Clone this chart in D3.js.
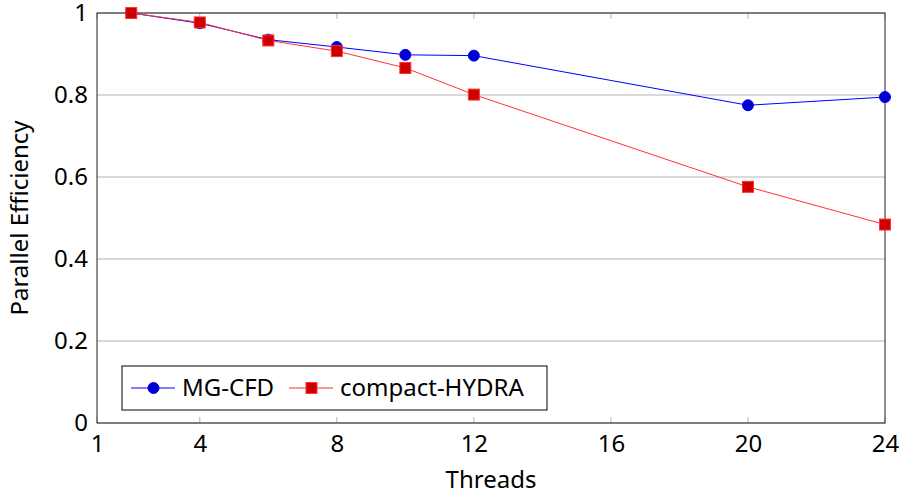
<!DOCTYPE html>
<html>
<head>
<meta charset="utf-8">
<script src="https://cdn.jsdelivr.net/npm/d3@7"></script>
<style>
  body { margin: 0; background: #fff; }
  text { font-family: "Noto Sans", "DejaVu Sans", sans-serif; fill: #000; }
</style>
</head>
<body>
<div id="chart"></div>
<script>
var threads = [2, 4, 6, 8, 10, 12, 20, 24]
var mgcfd = [1, 0.975, 0.935, 0.917, 0.898, 0.896, 0.775, 0.795]
var hydra = [1, 0.977, 0.933, 0.907, 0.866, 0.801, 0.576, 0.484]
var x_ticks = [1, 4, 8, 12, 16, 20, 24]
var y_ticks = [0, 0.2, 0.4, 0.6, 0.8, 1]
var series_names = ["MG-CFD", "compact-HYDRA"]

var W = 902, H = 496
var plot = {left: 97, right: 885, top: 13, bottom: 423}
var fontSize = "24px"

var svg = d3.select("#chart").append("svg")
    .attr("width", W)
    .attr("height", H)

var xScale = d3.scaleLinear().domain([1, 24]).range([plot.left, plot.right])
var yScale = d3.scaleLinear().domain([0, 1]).range([plot.bottom, plot.top])

var g = svg.append("g")

// horizontal grid
g.selectAll(".grid")
  .data(y_ticks)
  .enter().append("line")
    .attr("x1", plot.left).attr("x2", plot.right)
    .attr("y1", d => yScale(d)).attr("y2", d => yScale(d))
    .attr("stroke", "#b3b3b3").attr("stroke-width", 1)

// x tick stubs, top and bottom
x_ticks.forEach(function(t) {
  [[plot.bottom, plot.bottom - 6], [plot.top, plot.top + 6]].forEach(function(p) {
    g.append("line")
      .attr("x1", xScale(t)).attr("x2", xScale(t))
      .attr("y1", p[0]).attr("y2", p[1])
      .attr("stroke", "#b3b3b3").attr("stroke-width", 1)
  })
})

// frame
g.append("rect")
  .attr("x", plot.left).attr("y", plot.top)
  .attr("width", plot.right - plot.left).attr("height", plot.bottom - plot.top)
  .attr("fill", "none").attr("stroke", "#222").attr("stroke-width", 1)

// tick labels through d3 axis
var xAxis = d3.axisBottom(xScale).tickValues(x_ticks).tickSize(0).tickPadding(12)
var yAxis = d3.axisLeft(yScale).tickValues(y_ticks).tickSize(0).tickPadding(9)
  .tickFormat(d => d3.format("~g")(d))

var xg = g.append("g").attr("transform", "translate(0," + plot.bottom + ")").call(xAxis)
var yg = g.append("g").attr("transform", "translate(" + plot.left + ",0)").call(yAxis)
;[xg, yg].forEach(function(a) {
  a.select(".domain").remove()
  a.selectAll("text").style("font-size", fontSize)
    .style("font-family", '"Noto Sans", "DejaVu Sans", sans-serif')
})

g.append("text")
  .attr("x", (plot.left + plot.right) / 2)
  .attr("y", 488)
  .attr("text-anchor", "middle")
  .style("font-size", fontSize)
  .text("Threads")

g.append("text")
  .attr("transform", "translate(28," + ((plot.top + plot.bottom) / 2) + ")rotate(-90)")
  .attr("text-anchor", "middle")
  .style("font-size", fontSize)
  .text("Parallel Efficiency")

var line = d3.line()
  .x((d, i) => xScale(threads[i]))
  .y(d => yScale(d))

function draw_series(vals, color, fill, shape) {
  g.append("path")
    .datum(vals)
    .attr("d", line)
    .attr("fill", "none")
    .attr("stroke", color)
    .attr("stroke-width", 1)
  vals.forEach(function(v, i) {
    marker(g, xScale(threads[i]), yScale(v), color, fill, shape)
  })
}

function marker(parent, cx, cy, color, fill, shape) {
  if (shape == "circle") {
    parent.append("circle")
      .attr("cx", cx).attr("cy", cy).attr("r", 5.5)
      .attr("fill", fill).attr("stroke", color).attr("stroke-width", 1)
  } else {
    parent.append("rect")
      .attr("x", cx - 5.5).attr("y", cy - 5.5)
      .attr("width", 11).attr("height", 11)
      .attr("fill", fill).attr("stroke", color).attr("stroke-width", 1)
  }
}

draw_series(mgcfd, "#0000ff", "#0000cc", "circle")
draw_series(hydra, "#ff3333", "#cc0000", "square")

// legend
var lg = g.append("g")
lg.append("rect")
  .attr("x", 122).attr("y", 366).attr("width", 425).attr("height", 44)
  .attr("fill", "#fff").attr("stroke", "#000").attr("stroke-width", 1)

var legend_items = [
  {name: series_names[0], color: "#0000ff", fill: "#0000cc", shape: "circle", x: 131, tx: 182},
  {name: series_names[1], color: "#ff3333", fill: "#cc0000", shape: "square", x: 289, tx: 340}
]
legend_items.forEach(function(d) {
  lg.append("line")
    .attr("x1", d.x).attr("x2", d.x + 44)
    .attr("y1", 388).attr("y2", 388)
    .attr("stroke", d.color).attr("stroke-width", 1)
  marker(lg, d.x + 22.5, 388, d.color, d.fill, d.shape)
  lg.append("text")
    .attr("x", d.tx).attr("y", 396)
    .style("font-size", fontSize)
    .text(d.name)
})
</script>
</body>
</html>
